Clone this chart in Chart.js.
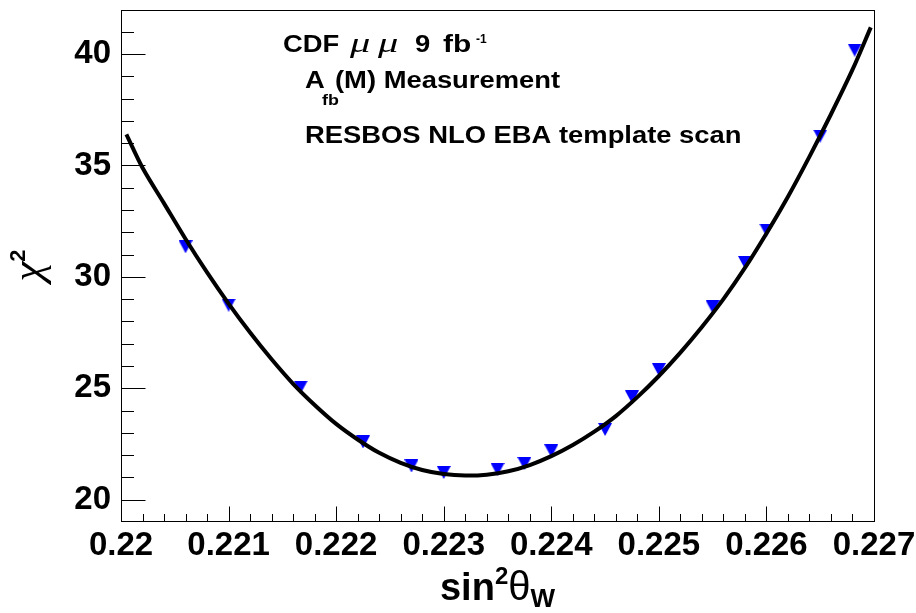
<!DOCTYPE html>
<html>
<head>
<meta charset="utf-8">
<script src="https://cdn.jsdelivr.net/npm/chart.js@4.4.0/dist/chart.umd.min.js"></script>
<style>
  html, body { margin: 0; padding: 0; background: #fff; }
</style>
</head>
<body>
<canvas id="chi2Chart" width="916" height="613"></canvas>
<script>
// Template scan: sin^2(theta_W) points and their chi^2
const scanX = [0.2206, 0.2210, 0.22167, 0.22225, 0.2227, 0.2230, 0.2235, 0.22375, 0.2240,
               0.2245, 0.22475, 0.2250, 0.2255, 0.2258, 0.2260, 0.2265, 0.22682];
const scanChi2 = [31.35, 28.73, 25.05, 22.59, 21.51, 21.22, 21.36, 21.62, 22.19,
                  23.15, 24.61, 25.84, 28.65, 30.65, 32.10, 36.32, 40.18];

// Fitted chi^2 curve, sampled along the axis
const fitX = [0.22005, 0.2202, 0.2204, 0.2206, 0.2208, 0.2210, 0.2212, 0.2214, 0.2216, 0.2218,
              0.2220, 0.2222, 0.2224, 0.2226, 0.2228, 0.2230, 0.2232, 0.2234, 0.2236, 0.2238,
              0.2240, 0.2242, 0.2244, 0.2246, 0.2248, 0.2250, 0.2252, 0.2254, 0.2256, 0.2258,
              0.2260, 0.2262, 0.2264, 0.2266, 0.2268, 0.22697];
const fitChi2 = [36.4, 34.9, 33.3, 31.7, 30.2, 28.8, 27.5, 26.3, 25.2, 24.25,
                 23.4, 22.7, 22.1, 21.65, 21.33, 21.15, 21.08, 21.12, 21.27, 21.55,
                 21.95, 22.45, 23.05, 23.75, 24.6, 25.55, 26.6, 27.75, 29.0, 30.4,
                 31.95, 33.6, 35.4, 37.3, 39.3, 41.2];

const xTicks = [0.220, 0.221, 0.222, 0.223, 0.224, 0.225, 0.226, 0.227];
const xTickLabels = ['0.22', '0.221', '0.222', '0.223', '0.224', '0.225', '0.226', '0.227'];
const yTicks = [20, 25, 30, 35, 40];
const yTickLabels = ['20', '25', '30', '35', '40'];

const X_MIN = 0.22, X_MAX = 0.227, X_MINOR = 0.0002;
const Y_MIN = 19.04, Y_MAX = 41.98;

const SANS = '"Liberation Sans", Arial, Helvetica, sans-serif';
const SERIF = '"Liberation Serif", "Times New Roman", serif';

// ROOT-style marker 23: downward triangle, centred on its bounding box
function invertedTriangle(w, h, color) {
    const c = document.createElement('canvas');
    c.width = w;
    c.height = h;
    const g = c.getContext('2d');
    g.fillStyle = color;
    g.beginPath();
    g.moveTo(0, 0);
    g.lineTo(w, 0);
    g.lineTo(w / 2, h);
    g.closePath();
    g.fill();
    return c;
}

// draws a piece of text, optionally stretched horizontally; returns its width
function textRun(ctx, text, font, x, y, sx = 1) {
    ctx.save();
    ctx.font = font;
    ctx.translate(x, y);
    ctx.scale(sx, 1);
    ctx.fillText(text, 0, 0);
    const w = ctx.measureText(text).width * sx;
    ctx.restore();
    return w;
}

function runWidth(ctx, text, font, sx = 1) {
    ctx.save();
    ctx.font = font;
    const w = ctx.measureText(text).width * sx;
    ctx.restore();
    return w;
}

// frame, inward ticks, axis titles and the text block
const rootStyle = {
    id: 'rootStyle',
    afterDraw(chart) {
        const { ctx, chartArea: a, scales: { x, y } } = chart;
        const left = Math.round(a.left) + 0.5;
        const right = Math.round(a.right) + 0.5;
        const top = Math.round(a.top) + 0.5;
        const bottom = Math.round(a.bottom) + 0.5;

        ctx.save();
        ctx.strokeStyle = '#000';
        ctx.lineWidth = 1;
        ctx.strokeRect(left, top, right - left, bottom - top);

        ctx.beginPath();
        const nx = Math.round((X_MAX - X_MIN) / X_MINOR);
        for (let k = 0; k <= nx; k++) {
            const px = Math.round(x.getPixelForValue(X_MIN + k * X_MINOR)) + 0.5;
            const len = k % 5 === 0 ? 15 : 7.5;
            ctx.moveTo(px, bottom);
            ctx.lineTo(px, bottom - len);
        }
        for (let v = Math.ceil(Y_MIN); v <= Y_MAX; v++) {
            const py = Math.round(y.getPixelForValue(v)) + 0.5;
            const len = v % 5 === 0 ? 24 : 12.5;
            ctx.moveTo(left, py);
            ctx.lineTo(left + len, py);
        }
        ctx.stroke();

        ctx.fillStyle = '#000';
        ctx.textBaseline = 'alphabetic';
        ctx.textAlign = 'left';

        // x title: sin^2 theta_W
        const xt = [
            { t: 'sin', f: 'bold 38px ' + SANS, dy: 0 },
            { t: '2', f: 'bold 24px ' + SANS, dy: -16 },
            { t: '\u03b8', f: '40px ' + SANS, dy: 0 },
            { t: 'W', f: 'bold 26px ' + SANS, dy: 7 }
        ];
        let total = 0;
        xt.forEach(r => { total += runWidth(ctx, r.t, r.f); });
        let cx = (a.left + a.right) / 2 - total / 2;
        xt.forEach(r => { cx += textRun(ctx, r.t, r.f, cx, 600 + r.dy); });

        // y title: chi^2, rotated
        ctx.save();
        ctx.translate(42, (a.top + a.bottom) / 2);
        ctx.rotate(-Math.PI / 2);
        const yt = [
            { t: '\u03c7', f: 'italic 45px ' + SERIF, dy: 0 },
            { t: '2', f: 'bold 22px ' + SANS, dy: -17 }
        ];
        total = 0;
        yt.forEach(r => { total += runWidth(ctx, r.t, r.f); });
        let cy = -total / 2;
        yt.forEach(r => { cy += textRun(ctx, r.t, r.f, cy, r.dy); });
        ctx.restore();

        // text block
        const sx = 1.19;
        const big = 'bold 23px ' + SANS;
        const mu = 'italic 27px ' + SERIF;
        textRun(ctx, 'CDF', big, 283, 52, sx);
        textRun(ctx, '\u03bc', mu, 350, 52, 1.5);
        textRun(ctx, '\u03bc', mu, 378, 52, 1.5);
        textRun(ctx, '9', big, 415, 52, sx);
        textRun(ctx, 'fb', big, 443, 52, 1.3);
        textRun(ctx, '-1', 'bold 12px ' + SANS, 476, 43, 1);

        textRun(ctx, 'A', big, 305, 88, sx);
        textRun(ctx, 'fb', 'bold 15px ' + SANS, 322, 105, sx);
        textRun(ctx, '(M) Measurement', big, 335, 88, sx);

        textRun(ctx, 'RESBOS NLO EBA template scan', big, 305, 143, sx);
        ctx.restore();
    }
};

const ctx = document.getElementById('chi2Chart').getContext('2d');

new Chart(ctx, {
    type: 'scatter',
    data: {
        datasets: [
            {
                label: 'fit',
                type: 'line',
                data: fitX.map((v, i) => ({ x: v, y: fitChi2[i] })),
                borderColor: '#000',
                borderWidth: 4,
                pointRadius: 0,
                tension: 0.3,
                fill: false,
                order: 0
            },
            {
                label: 'scan',
                data: scanX.map((v, i) => ({ x: v, y: scanChi2[i] })),
                pointStyle: invertedTriangle(14, 13, '#0000ff'),
                pointRadius: 7,
                backgroundColor: '#0000ff',
                order: 1
            }
        ]
    },
    options: {
        responsive: false,
        animation: false,
        events: [],
        layout: { padding: { left: 0, top: 10, right: 42, bottom: 0 } },
        plugins: {
            legend: { display: false },
            tooltip: { enabled: false }
        },
        scales: {
            x: {
                type: 'linear',
                min: X_MIN,
                max: X_MAX,
                grid: { display: false, drawTicks: false },
                border: { display: false },
                afterBuildTicks: scale => { scale.ticks = xTicks.map(v => ({ value: v })); },
                afterFit: scale => {
                    scale.height = 92;
                    scale.paddingLeft = 0;
                    scale.paddingRight = 0;
                },
                ticks: {
                    autoSkip: false,
                    maxRotation: 0,
                    minRotation: 0,
                    padding: 5,
                    color: '#000',
                    font: { family: SANS, size: 33, weight: 'bold' },
                    callback: (value, index) => xTickLabels[index]
                }
            },
            y: {
                type: 'linear',
                min: Y_MIN,
                max: Y_MAX,
                grid: { display: false, drawTicks: false },
                border: { display: false },
                afterBuildTicks: scale => { scale.ticks = yTicks.map(v => ({ value: v })); },
                afterFit: scale => {
                    scale.width = 121;
                    scale.paddingTop = 0;
                    scale.paddingBottom = 0;
                },
                ticks: {
                    padding: 10,
                    color: '#000',
                    font: { family: SANS, size: 33, weight: 'bold' },
                    callback: (value, index) => yTickLabels[index]
                }
            }
        }
    },
    plugins: [rootStyle]
});
</script>
</body>
</html>
